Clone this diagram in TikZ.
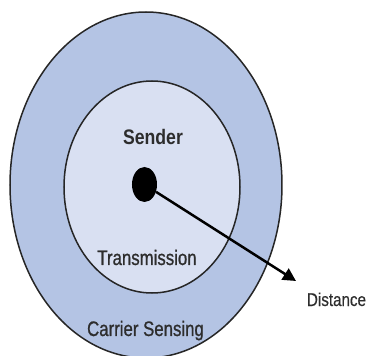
\documentclass[tikz,border=0pt]{standalone}
\usepackage{fontspec}
\newfontfamily\narrowfont{Liberation Sans}[FakeStretch=0.8,FakeBold=0.8]
\newfontfamily\distfont{Liberation Sans}[FakeStretch=0.82,FakeBold=0.4]
\newfontfamily\narrowbold{Liberation Sans Bold}[FakeStretch=0.84]
\usetikzlibrary{arrows.meta,shapes.geometric}
\definecolor{outerfill}{RGB}{180,196,228}
\definecolor{innerfill}{RGB}{217,224,242}
\definecolor{txt}{RGB}{45,45,45}
\tikzset{
  ring/.style={ellipse, draw=black!85, line width=1.5pt, inner sep=0pt},
  lbl/.style={anchor=base, text=txt, inner sep=0pt, font=\narrowfont\fontsize{21}{21}\selectfont},
}
\begin{document}
\begin{tikzpicture}[x=1pt,y=-1pt]
\useasboundingbox (0,0) rectangle (368,356);
\begin{scope}
\clip (0,0) rectangle (368,356);
\node[ring, fill=outerfill, minimum width=272pt, minimum height=346pt] (outer) at (146,185) {};
\node[ring, fill=innerfill, minimum width=176pt, minimum height=212pt] (inner) at (152,187) {};
\end{scope}
\node[ellipse, fill=black, inner sep=0pt, minimum width=25pt, minimum height=35pt] (dot) at (144.5,184.5) {};
\coordinate (tip) at (296,281);
\draw[line width=2.5pt, -{Triangle[length=13pt,width=13pt]}] (dot) -- (tip);
\node[lbl, font=\narrowbold\fontsize{21}{21}\selectfont] (sender) at (153,144) {Sender};
\node[lbl] (trans) at (147,265) {Transmission};
\node[lbl] (carrier) at (145.5,336) {Carrier Sensing};
\node[lbl, font=\distfont\fontsize{18.5}{18.5}\selectfont] (dist) at (336.5,306) {Distance};
\end{tikzpicture}
\end{document}
